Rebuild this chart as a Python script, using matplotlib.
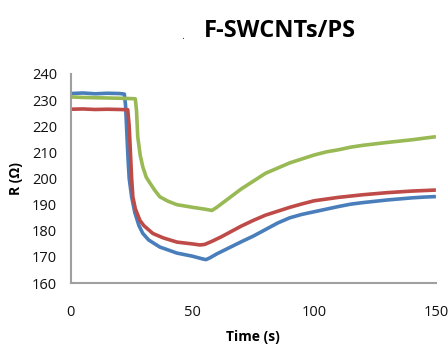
import matplotlib
matplotlib.use("Agg")
import matplotlib.pyplot as plt

# Time (s) and resistance (ohm)
t_blue = [0, 5, 10, 15, 20, 22, 22.5, 23, 23.5, 24, 25, 26.3, 28, 29.6, 32, 36.6, 43.6, 50, 54,
          55.5, 57, 60, 65, 70, 75, 80, 85, 90, 95, 100, 105, 110, 115, 120, 125, 130, 135, 140,
          145, 150]
r_blue = [232.5, 232.7, 232.4, 232.6, 232.5, 232.3, 228, 218, 208, 200, 193, 187, 182, 179,
          176.5, 173.8, 171.5, 170.3, 169.3, 169, 169.6, 171.2, 173.5, 175.8, 178, 180.5, 183, 185,
          186.3, 187.3, 188.3, 189.3, 190.2, 190.8, 191.3, 191.8, 192.2, 192.6, 192.9, 193.1]

t_red = [0, 5, 10, 15, 20, 23.4, 24, 24.5, 25, 25.5, 26.5, 28.4, 30, 33.7, 38, 43.6, 50, 53, 55,
         58, 62, 66, 70, 75, 80, 85, 90, 95, 100, 110, 120, 130, 140, 150]
r_red = [226.5, 226.6, 226.4, 226.5, 226.4, 226.3, 220, 210, 200, 193, 188.5, 184, 182, 179,
         177.3, 175.7, 175, 174.6, 174.8, 176, 177.8, 179.8, 181.8, 184, 186, 187.5, 189, 190.3,
         191.5, 192.8, 193.8, 194.6, 195.2, 195.6]

t_green = [0, 5, 10, 15, 20, 26.5, 27, 27.5, 28.5, 29.6, 31, 32.5, 34.5, 36.6, 40, 43.6, 50, 55,
           58, 60, 65, 70, 75, 80, 85, 90, 95, 100, 105, 110, 115, 120, 130, 140, 150]
r_green = [231.2, 231.0, 230.9, 230.8, 230.7, 230.5, 226, 216, 209, 204.4, 200.5, 198.3, 195.5,
           193, 191.3, 190, 189, 188.3, 187.8, 189, 192.5, 196, 199, 202, 204, 206, 207.5, 209,
           210.2, 211, 212, 212.7, 213.8, 214.8, 216]

x_ticks = [0, 50, 100, 150]
y_ticks = [160, 170, 180, 190, 200, 210, 220, 230, 240]

plt.rcParams['font.family'] = ['Open Sans', 'DejaVu Sans']

fig = plt.figure(figsize=(4.48, 3.47), dpi=100)
ax = fig.add_axes([0.158, 0.184, 0.815, 0.603])

ax.plot(t_blue, r_blue, color='#4a7ebb', lw=2.6, solid_capstyle='butt')
ax.plot(t_red, r_red, color='#be4b48', lw=2.6, solid_capstyle='butt')
ax.plot(t_green, r_green, color='#98b954', lw=2.6, solid_capstyle='butt')

ax.set_xlim(0, 150)
ax.set_ylim(160, 240)
ax.set_xticks(x_ticks)
ax.set_yticks(y_ticks)
ax.tick_params(length=0, labelsize=10.5, colors='#111111')
ax.tick_params(axis='x', pad=16)
ax.tick_params(axis='y', pad=10)

for side in ['top', 'right']:
    ax.spines[side].set_visible(False)
for side in ['left', 'bottom']:
    ax.spines[side].set_color('#a0a0a0')
    ax.spines[side].set_linewidth(1.5)

ax.set_xlabel('Time (s)', fontsize=10, fontweight='bold', labelpad=7)
ax.set_ylabel('R (Ω)', fontsize=10, fontweight='bold', labelpad=6)

fig.text(0.625, 0.91, 'F-SWCNTs/PS', fontsize=17, fontweight='bold', ha='center', va='center')
fig.text(0.408, 0.896, '.', fontsize=8, color='#333333', ha='center', va='center')

fig.savefig('out.png', dpi=100)
